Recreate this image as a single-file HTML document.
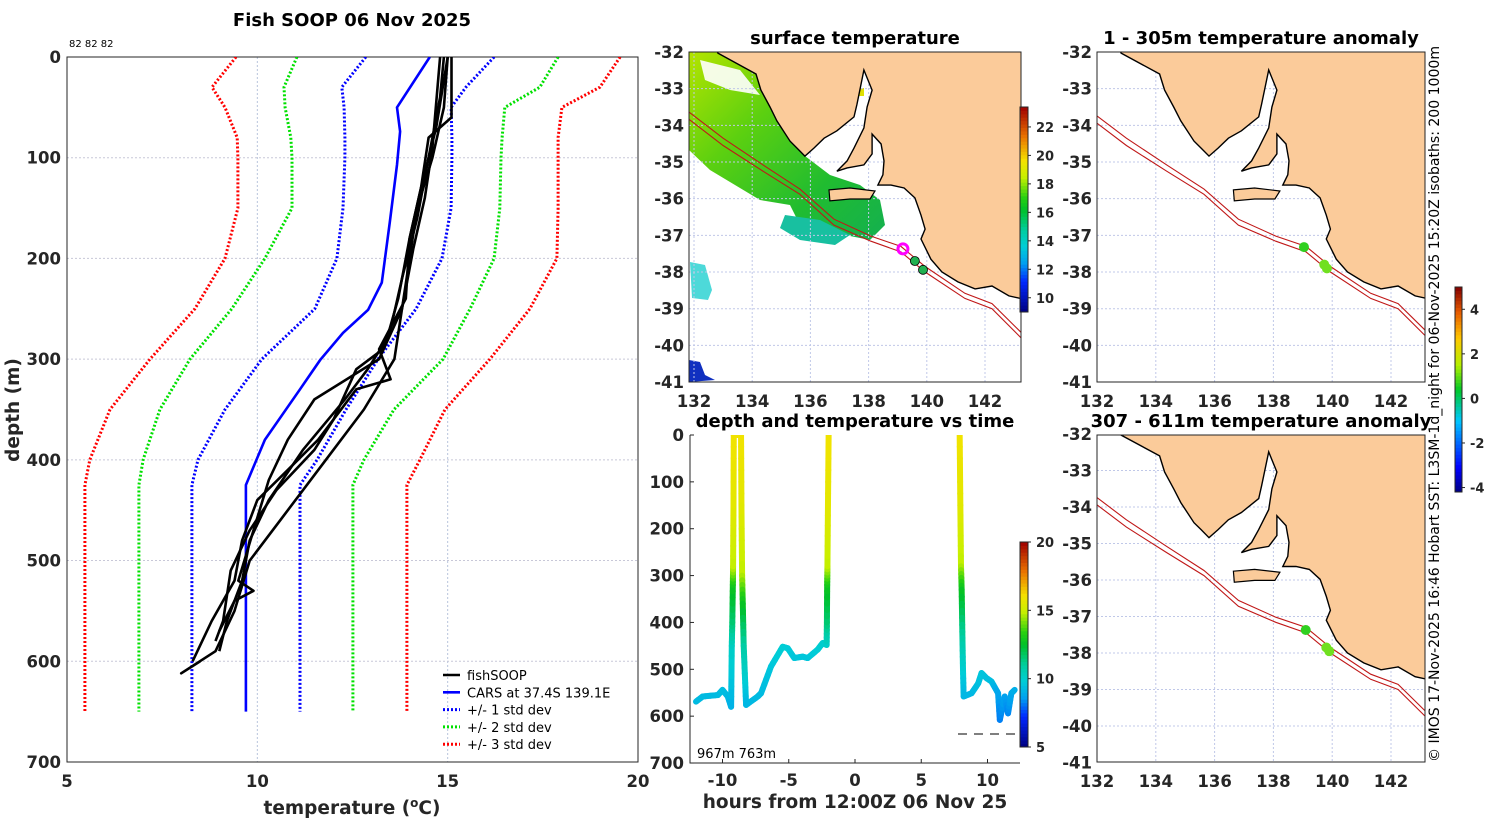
<!DOCTYPE html>
<html><head><meta charset="utf-8">
<style>
html,body{margin:0;padding:0;background:#fff;}
svg{display:block;font-family:"DejaVu Sans","Liberation Sans",sans-serif;}
.tk{font-weight:bold;font-size:16.5px;fill:#262626;}
.ttl{font-weight:bold;font-size:18px;fill:#000;}
.axt{font-weight:bold;font-size:18.5px;fill:#262626;}
</style></head>
<body>
<svg id="fig" width="1500" height="820" viewBox="0 0 1500 820" xmlns="http://www.w3.org/2000/svg">
<defs>
<clipPath id="cl"><rect x="67" y="57" width="571" height="705"/></clipPath>
<clipPath id="cm1"><rect x="689" y="52" width="332" height="330"/></clipPath>
<clipPath id="cm2"><rect x="690" y="435" width="330" height="328"/></clipPath>
<clipPath id="cm3"><rect x="1097" y="52" width="328" height="330"/></clipPath>
<clipPath id="cm4"><rect x="1097" y="435" width="328" height="327"/></clipPath>
</defs>
</svg>
<script>
// ---------- DATA ----------
const profDepths=[0,30,50,80,100,150,200,250,300,350,400,425,650];
const sdMinus1=[12.85,12.22,12.28,12.30,12.30,12.25,12.09,11.51,10.12,9.15,8.44,8.28,8.28];
const sdPlus1=[16.22,15.48,15.09,15.11,15.11,15.09,14.85,14.17,13.17,12.33,11.57,11.12,11.12];
const sdMinus2=[11.04,10.70,10.73,10.88,10.91,10.91,10.20,9.33,8.23,7.44,7.00,6.89,6.89];
const sdPlus2=[17.90,17.42,16.50,16.43,16.40,16.37,16.22,15.59,14.88,13.59,12.80,12.51,12.51];
const sdMinus3=[9.44,8.81,9.15,9.47,9.49,9.49,9.15,8.36,7.18,6.13,5.60,5.47,5.47];
const sdPlus3=[19.53,19.0,18.0,17.90,17.90,17.90,17.87,17.16,16.11,14.93,14.27,13.93,13.93];
const carsDepth=[0,50,74,107,164,224,251,274,301,330,380,425,650];
const carsTemp=[14.53,13.67,13.75,13.67,13.48,13.27,12.91,12.25,11.65,11.12,10.20,9.70,9.70];
const fishProfiles=[
 [[15.0,0],[14.9,50],[14.6,100],[14.2,150],[14.0,200],[13.8,250],[13.6,300],[12.8,350],[11.8,400],[10.6,460],[9.8,500],[9.4,550],[8.9,590],[8.0,612],[8.5,600]],
 [[15.1,0],[15.1,60],[14.5,80],[14.3,130],[14.0,180],[13.9,240],[13.2,290],[13.5,320],[12.6,330],[11.6,380],[10.8,410],[10.0,440],[9.6,480],[9.4,520],[8.8,560],[8.3,600]],
 [[14.9,0],[14.8,40],[14.5,100],[14.2,160],[13.8,220],[13.5,270],[13.3,290],[12.6,310],[12.0,360],[11.5,390],[10.5,430],[9.8,470],[9.3,510],[9.1,560],[8.9,580]],
 [[15.0,0],[14.7,70],[14.3,130],[14.0,180],[13.7,240],[13.4,280],[12.9,310],[12.3,340],[11.2,390],[10.3,440],[9.8,480],[9.6,520],[9.2,560],[9.0,590]],
 [[14.8,0],[14.6,90],[14.4,140],[14.1,190],[13.8,250],[13.2,300],[11.5,340],[10.8,380],[10.3,420],[9.9,470],[9.5,520],[9.9,530],[9.4,540],[9.0,570]]
];
const tempTicks=[5,10,15,20];
const depthTicks=[0,100,200,300,400,500,600,700];

const tsHours=[-12.0,-11.5,-10.35,-10.0,-9.6,-9.35,-9.3,-9.26,-9.22,-9.2,-9.17,-9.15,-8.6,-8.57,-8.52,-8.47,-8.4,-8.3,-8.22,-7.34,-7.09,-6.34,-5.46,-5.08,-4.58,-3.95,-3.57,-2.82,-2.44,-2.14,-2.12,-2.1,-2.08,-2.04,-1.99,7.9,7.95,8.0,8.05,8.1,8.15,8.2,8.8,9.3,9.55,9.93,10.3,10.8,10.93,11.3,11.55,11.8,12.05];
const tsDepths=[569,558,555,544,558,580,450,400,320,280,150,0,0,150,300,360,450,520,576,558,551,494,452,455,476,473,476,458,444,448,400,320,280,150,0,0,150,280,330,420,500,558,551,530,508,519,526,551,608,558,594,551,544];
const tsTemps=[9.3,9.3,9.3,9.4,9.3,9.0,10.2,11.5,12.8,14.8,15.6,16.0,16.0,15.6,14.8,12.8,11.0,10.0,9.2,9.3,9.3,9.6,9.9,9.8,9.6,9.6,9.6,9.8,10.0,10.0,11.5,12.8,14.8,15.6,16.0,16.0,15.6,14.8,12.8,11.2,10.0,9.2,9.2,9.4,9.6,9.5,9.4,8.8,8.2,8.7,8.3,8.8,9.0];
const hourTicks=[-10,-5,0,5,10];

const lonTicks=[132,134,136,138,140,142];
const latTicks=[-32,-33,-34,-35,-36,-37,-38,-39,-40,-41];
const coastLon=[132.82,134.13,134.30,134.61,134.85,135.30,135.54,135.81,136.12,136.47,136.91,137.50,137.60,137.84,138.12,137.95,137.84,137.50,137.26,136.91,137.26,137.84,138.12,138.12,138.43,138.53,138.49,138.32,138.77,139.22,139.59,139.80,139.94,139.80,140.14,140.52,141.07,141.66,142.24,142.82,143.34,144.0];
const coastLat=[-32.03,-32.60,-33.04,-33.50,-33.88,-34.43,-34.62,-34.84,-34.62,-34.35,-34.15,-33.77,-33.42,-32.49,-33.04,-33.50,-34.07,-34.62,-34.97,-35.25,-35.16,-35.08,-34.78,-34.24,-34.51,-34.97,-35.35,-35.63,-35.63,-35.71,-35.98,-36.45,-36.83,-37.10,-37.65,-38.0,-38.27,-38.46,-38.38,-38.65,-38.74,-38.9];
const kiLon=[136.64,137.36,138.22,138.05,137.36,136.67];
const kiLat=[-35.76,-35.71,-35.79,-36.01,-36.01,-36.06];
const iso200Lon=[131.8,133.0,134.37,135.64,136.81,138.08,139.11,139.94,141.31,142.24,143.27,143.6];
const iso200Lat=[-33.62,-34.35,-35.08,-35.74,-36.56,-37.02,-37.30,-37.85,-38.58,-38.86,-39.67,-39.95];
const iso1000Lon=[131.8,133.0,134.37,135.64,136.81,138.08,139.11,139.94,141.31,142.24,143.27,143.6];
const iso1000Lat=[-33.82,-34.55,-35.25,-35.88,-36.72,-37.16,-37.45,-38.0,-38.72,-39.0,-39.82,-40.1];
const sstTicks=[10,12,14,16,18,20,22];
const anomTicks=[-4,-2,0,2,4];
const tsCbTicks=[5,10,15,20];
const surfObsLon=[139.59,139.87];
const surfObsLat=[-37.70,-37.94];
const anomTopLon=[139.04,139.73,139.82];
const anomTopLat=[-37.32,-37.80,-37.90];
const anomBotLon=[139.1,139.8,139.9];
const anomBotLat=[-37.37,-37.85,-37.95];

// ---------- HELPERS ----------
const NS='http://www.w3.org/2000/svg';
const svg=document.getElementById('fig');
function mk(tag,attrs,parent){const e=document.createElementNS(NS,tag);for(const k in attrs)e.setAttribute(k,attrs[k]);(parent||svg).appendChild(e);return e;}
function txt(x,y,s,cls,anchor,parent){const t=mk('text',{x:x,y:y,'class':cls,'text-anchor':anchor||'middle'},parent);t.textContent=s;return t;}
function hex(c){return '#'+c.map(v=>Math.round(v).toString(16).padStart(2,'0')).join('');}
const stops=[[0,[0,0,127]],[0.15,[0,40,255]],[0.24,[0,160,240]],[0.32,[0,205,215]],[0.4,[0,205,160]],[0.5,[0,192,40]],[0.56,[40,208,16]],[0.66,[200,240,0]],[0.74,[245,225,0]],[0.86,[232,112,0]],[1,[160,0,0]]];
function cmap(f){f=Math.max(0,Math.min(1,f));for(let i=1;i<stops.length;i++){if(f<=stops[i][0]){const a=stops[i-1],b=stops[i];const u=(f-a[0])/(b[0]-a[0]);return hex(a[1].map((v,k)=>v+u*(b[1][k]-v)));}}return hex(stops[stops.length-1][1]);}
const jetStops=[[0,[0,0,130]],[0.12,[0,0,255]],[0.35,[0,200,255]],[0.5,[0,200,40]],[0.62,[180,240,0]],[0.75,[255,200,0]],[0.88,[230,90,0]],[1,[130,0,0]]];
function jet(f){f=Math.max(0,Math.min(1,f));for(let i=1;i<jetStops.length;i++){if(f<=jetStops[i][0]){const a=jetStops[i-1],b=jetStops[i];const u=(f-a[0])/(b[0]-a[0]);return hex(a[1].map((v,k)=>v+u*(b[1][k]-v)));}}return '#800000';}

// ---------- LEFT PANEL ----------
const xT=t=>67+(t-5)*38.067;
const yD=d=>57+d*1.0071;
const gL=mk('g',{});


const ttl=txt(352,26,'Fish SOOP 06 Nov 2025','ttl','middle',gL);


const small=mk('text',{x:69,y:47,'font-size':'10',fill:'#000'},gL);small.textContent='82 82 82';


tempTicks.forEach(t=>{
  if(t>5&&t<20){const g=mk('line',{x1:xT(t),x2:xT(t),y1:57,y2:762,stroke:'#b8c4dc','stroke-width':1,'stroke-dasharray':'2,2'},gL);
  
  }
  const l=txt(xT(t),787,String(t),'tk','middle',gL);
  
  
});
depthTicks.forEach(d=>{
  if(d>0&&d<700){const g=mk('line',{x1:67,x2:638,y1:yD(d),y2:yD(d),stroke:'#c8c8d8','stroke-width':1,'stroke-dasharray':'2,2'},gL);
  
  }
  const l=txt(61,yD(d)+6,String(d),'tk','end',gL);
  
  
});
const frL=mk('rect',{x:67,y:57,width:571,height:705,fill:'none',stroke:'#262626','stroke-width':1},gL);


const yt=mk('text',{x:0,y:0,'class':'axt','text-anchor':'middle',transform:'translate(19,410) rotate(-90)'},gL);yt.textContent='depth (m)';


const xtt=mk('text',{x:352,y:814,'class':'axt','text-anchor':'middle'},gL);
xtt.innerHTML='temperature (<tspan dy="-7" font-size="12">o</tspan><tspan dy="7">C)</tspan>';


const gLc=mk('g',{'clip-path':'url(#cl)'},gL);
function profLine(temps,depths,color,dotted,name){
  const pts=temps.map((t,i)=>xT(t).toFixed(1)+','+yD(depths[i]).toFixed(1)).join(' ');
  const p=mk('polyline',{points:pts,fill:'none',stroke:color,'stroke-width':dotted?3:2.6,'stroke-dasharray':dotted?'2,2':'none'},gLc);
  
  
}
profLine(sdMinus3,profDepths,'#ff0000',true,'minus-3-std-line');
profLine(sdPlus3,profDepths,'#ff0000',true,'plus-3-std-line');
profLine(sdMinus2,profDepths,'#00e000',true,'minus-2-std-line');
profLine(sdPlus2,profDepths,'#00e000',true,'plus-2-std-line');
profLine(sdMinus1,profDepths,'#0000ff',true,'minus-1-std-line');
profLine(sdPlus1,profDepths,'#0000ff',true,'plus-1-std-line');
profLine(carsTemp,carsDepth,'#0000ff',false,'cars-mean-line');
fishProfiles.forEach(pr=>{
  const pts=pr.map(p=>xT(p[0]).toFixed(1)+','+yD(p[1]).toFixed(1)).join(' ');
  const p=mk('polyline',{points:pts,fill:'none',stroke:'#000','stroke-width':2.6,'stroke-linejoin':'round'},gLc);
  
  
});
const legItems=[['fishSOOP','#000',false],['CARS at 37.4S 139.1E','#0000ff',false],['+/- 1 std dev','#0000ff',true],['+/- 2 std dev','#00e000',true],['+/- 3 std dev','#ff0000',true]];
const gLeg=mk('g',{},gL);


legItems.forEach((it,i)=>{
  const y=675+i*17.3;
  const ln=mk('line',{x1:443,x2:460,y1:y,y2:y,stroke:it[1],'stroke-width':it[2]?3:2.6,'stroke-dasharray':it[2]?'2,2':'none'},gLeg);
  
  
  const t=mk('text',{x:467,y:y+5,'font-size':'13',fill:'#000'},gLeg);t.textContent=it[0];
  
  
});

// ---------- MAPS ----------
function drawMap(o){
  const g=mk('g',{});
  
  
  const X=lon=>o.x0+(lon-132)*o.sx, Y=lat=>o.y0+(-32-lat)*o.sy;
  const gc=mk('g',{'clip-path':'url(#'+o.clip+')'},g);
  mk('rect',{x:o.fx,y:o.fy,width:o.fw,height:o.fh,fill:'#fff'},gc);
  if(o.sst){ o.sst(gc,X,Y); }
  lonTicks.forEach(l=>{const gl=mk('line',{x1:X(l),x2:X(l),y1:o.fy,y2:o.fy+o.fh,stroke:'#c0c8e8','stroke-width':1,'stroke-dasharray':'2,2'},gc);
    
    });
  latTicks.forEach(l=>{const gl=mk('line',{x1:o.fx,x2:o.fx+o.fw,y1:Y(l),y2:Y(l),stroke:'#c0c8e8','stroke-width':1,'stroke-dasharray':'2,2'},gc);
    
    });
  let pts=coastLon.map((l,i)=>X(l).toFixed(1)+','+Y(coastLat[i]).toFixed(1));
  pts.push(X(144.5)+','+Y(-31.5),X(132.5)+','+Y(-31.5));
  const land=mk('polygon',{points:pts.join(' '),fill:'#fbcb9a',stroke:'#000','stroke-width':1.4},gc);
  
  
  const ki=mk('polygon',{points:kiLon.map((l,i)=>X(l).toFixed(1)+','+Y(kiLat[i]).toFixed(1)).join(' '),fill:'#fbcb9a',stroke:'#000','stroke-width':1.2},gc);
  
  
  [[iso200Lon,iso200Lat,'isobath-200m'],[iso1000Lon,iso1000Lat,'isobath-1000m']].forEach(a=>{
    const p=mk('polyline',{points:a[0].map((l,i)=>X(l).toFixed(1)+','+Y(a[1][i]).toFixed(1)).join(' '),fill:'none',stroke:'#c01818','stroke-width':1.1},gc);
    
    
  });
  if(o.dots){o.dots(gc,X,Y);}
  const fr=mk('rect',{x:o.fx,y:o.fy,width:o.fw,height:o.fh,fill:'none',stroke:'#262626','stroke-width':1},g);
  
  
  lonTicks.forEach(l=>{const t=txt(X(l),o.fy+o.fh+25,String(l),'tk','middle',g);
    
    });
  latTicks.forEach(l=>{const t=txt(o.fx-5,Y(l)+6,String(l),'tk','end',g);
    
    });
  const tt=txt(o.fx+o.fw/2,o.fy-8,o.title,'ttl','middle',g);
  
  
  return g;
}
function sstPatches(gc,X,Y){
  const px=(a)=>a.map(p=>p[0]+','+p[1]).join(' ');
  const defs=mk('linearGradient',{id:'sstg',x1:'0',y1:'0',x2:'1',y2:'1'},gc);
  mk('stop',{offset:'0','stop-color':'#b4e400'},defs);
  mk('stop',{offset:'0.35','stop-color':'#5cd010'},defs);
  mk('stop',{offset:'0.7','stop-color':'#20bc30'},defs);
  mk('stop',{offset:'1','stop-color':'#14b050'},defs);
  const band=mk('polygon',{points:px([[689,52],[718,52],[756,74],[770,107],[790,141],[805,156],[830,175],[860,185],[880,200],[885,225],[870,240],[850,236],[830,230],[800,225],[790,205],[760,200],[735,185],[710,170],[689,150]]),fill:'url(#sstg)'},gc);
  
  
  const w=mk('polygon',{points:px([[700,60],[740,70],[760,95],[730,90],[705,80]]),fill:'#ffffff',opacity:0.9},gc);
  
  
  const teal=mk('polygon',{points:px([[785,215],[820,220],[850,235],[835,245],[800,240],[780,228]]),fill:'#18c0a0'},gc);
  
  
  const cy=mk('polygon',{points:px([[690,262],[705,265],[712,290],[708,300],[692,298]]),fill:'#20d0d0',opacity:0.8},gc);
  
  
  const bl=mk('polygon',{points:px([[689,360],[700,362],[705,375],[715,380],[689,382]]),fill:'#1030c0'},gc);
  
  
  const y1=mk('rect',{x:855,y:88,width:9,height:8,fill:'#e0e000'},gc);
  
  
}
drawMap({name:'surface-temperature-map',clip:'cm1',x0:694,sx:29.1,y0:52,sy:36.67,fx:689,fy:52,fw:332,fh:330,title:'surface temperature',sst:sstPatches,
  dots:(gc,X,Y)=>{
    surfObsLon.forEach((l,i)=>{const c=mk('circle',{cx:X(l),cy:Y(surfObsLat[i]),r:4.5,fill:'#20b050',stroke:'#000','stroke-width':0.8},gc);
      
      });
    const r=mk('circle',{cx:X(139.18),cy:Y(-37.37),r:5,fill:'none',stroke:'#ff00ff','stroke-width':3},gc);
    
    
  }});
drawMap({name:'anomaly-map-shallow',clip:'cm3',x0:1097,sx:29.4,y0:52,sy:36.67,fx:1097,fy:52,fw:328,fh:330,title:'1 - 305m temperature anomaly',
  dots:(gc,X,Y)=>{anomTopLon.forEach((l,i)=>{const c=mk('circle',{cx:X(l),cy:Y(anomTopLat[i]),r:5,fill:i==0?'#30d020':'#70e020'},gc);
      
      });}});
drawMap({name:'anomaly-map-deep',clip:'cm4',x0:1097,sx:29.4,y0:434,sy:36.5,fx:1097,fy:435,fw:328,fh:327,title:'307 - 611m temperature anomaly',
  dots:(gc,X,Y)=>{anomBotLon.forEach((l,i)=>{const c=mk('circle',{cx:X(l),cy:Y(anomBotLat[i]),r:5,fill:i==0?'#30d020':'#70e020'},gc);
      
      });}});

// ---------- COLORBARS ----------
function colorbar(name,x,y,w,h,vmin,vmax,ticks,fn){
  const g=mk('g',{});
  
  
  const n=60;
  for(let i=0;i<n;i++){mk('rect',{x:x,y:y+h-(i+1)*h/n,width:w,height:h/n+0.5,fill:fn((i+0.5)/n)},g);}
  const fr=mk('rect',{x:x,y:y,width:w,height:h,fill:'none',stroke:'#262626','stroke-width':1},g);
  
  
  ticks.forEach(v=>{const yy=y+h-(v-vmin)/(vmax-vmin)*h;
    mk('line',{x1:x+w,x2:x+w+3,y1:yy,y2:yy,stroke:'#262626'},g);
    const t=mk('text',{x:x+w+8,y:yy+5,'font-size':'13','font-weight':'bold',fill:'#262626'},g);t.textContent=String(v);
    
    });
}
colorbar('sst-colorbar',1020,107,8,205,9,23.4,sstTicks,cmap);
colorbar('anomaly-colorbar',1455,287,7,205,-4.2,5,anomTicks,jet);
colorbar('time-colorbar',1020,542,8,205,5,20,tsCbTicks,cmap);

// ---------- DEPTH-TIME PANEL ----------
const xH=h=>855+h*13.25;
const yT=d=>435+d*0.4686;
const gT=mk('g',{});


const tt2=txt(855,427,'depth and temperature vs time','ttl','middle',gT);


hourTicks.forEach(h=>{const t=txt(xH(h),786,String(h),'tk','middle',gT);
  
  
  mk('line',{x1:xH(h),x2:xH(h),y1:763,y2:759,stroke:'#262626'},gT);});
depthTicks.forEach(d=>{const t=txt(684,yT(d)+6,String(d),'tk','end',gT);
  
  
  mk('line',{x1:690,x2:694,y1:yT(d),y2:yT(d),stroke:'#262626'},gT);});
const ax1=mk('polyline',{points:'690,435 690,763 1020,763',fill:'none',stroke:'#262626','stroke-width':1},gT);


const xl2=txt(855,808,'hours from 12:00Z 06 Nov 25','axt','middle',gT);


const note=mk('text',{x:697,y:758,'font-size':'13',fill:'#000'},gT);note.textContent='967m 763m';


const dash=mk('line',{x1:958,x2:1018,y1:734,y2:734,stroke:'#333','stroke-width':1.2,'stroke-dasharray':'9,7'},gT);


const gTs=mk('g',{'clip-path':'url(#cm2)'},gT);
for(let i=0;i<tsHours.length-1;i++){
  if(tsHours[i+1]-tsHours[i]>3) continue;
  const n=6;
  for(let k=0;k<n;k++){
    const a=k/n,b=(k+1)/n;
    const h1=tsHours[i]+(tsHours[i+1]-tsHours[i])*a,h2=tsHours[i]+(tsHours[i+1]-tsHours[i])*b;
    const d1=tsDepths[i]+(tsDepths[i+1]-tsDepths[i])*a,d2=tsDepths[i]+(tsDepths[i+1]-tsDepths[i])*b;
    const tm=tsTemps[i]+(tsTemps[i+1]-tsTemps[i])*(a+b)/2;
    const s=mk('line',{x1:xH(h1),y1:yT(d1),x2:xH(h2),y2:yT(d2),stroke:cmap((tm-5)/15),'stroke-width':6,'stroke-linecap':'round'},gTs);
    
    
  }
}

// ---------- CREDIT ----------
const cr=mk('text',{x:0,y:0,'font-size':'14',fill:'#000','text-anchor':'middle',transform:'translate(1439,404) rotate(-90)',textLength:'716',lengthAdjust:'spacingAndGlyphs'});
cr.textContent='© IMOS 17-Nov-2025 16:46 Hobart SST: L3SM-1d_night for 06-Nov-2025 15:20Z isobaths: 200  1000m';


</script>
</body></html>
